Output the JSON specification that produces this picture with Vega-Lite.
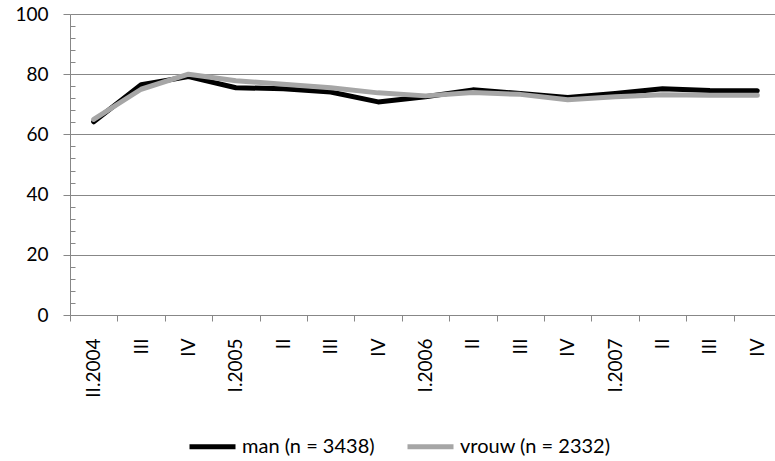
{
  "$schema": "https://vega.github.io/schema/vega-lite/v6.json",
  "width": 705,
  "height": 301,
  "autosize": {"type": "none"},
  "padding": {"left": 70, "top": 14, "right": 0, "bottom": 146},
  "background": "white",
  "config": {
    "view": {"stroke": null},
    "font": "Lato",
    "axis": {"labelFont": "Lato", "labelColor": "#000000", "domainColor": "#878787", "tickColor": "#878787", "gridColor": "#878787", "titleFont": "Lato"}
  },
  "data": {
    "values": [
      {"kwartaal": "II.2004", "geslacht": "man (n = 3438)", "pct": 64.2},
      {"kwartaal": "III.2004", "geslacht": "man (n = 3438)", "pct": 76.5},
      {"kwartaal": "IV.2004", "geslacht": "man (n = 3438)", "pct": 79.2},
      {"kwartaal": "I.2005", "geslacht": "man (n = 3438)", "pct": 75.5},
      {"kwartaal": "II.2005", "geslacht": "man (n = 3438)", "pct": 75.2},
      {"kwartaal": "III.2005", "geslacht": "man (n = 3438)", "pct": 74.1},
      {"kwartaal": "IV.2005", "geslacht": "man (n = 3438)", "pct": 70.8},
      {"kwartaal": "I.2006", "geslacht": "man (n = 3438)", "pct": 72.5},
      {"kwartaal": "II.2006", "geslacht": "man (n = 3438)", "pct": 74.8},
      {"kwartaal": "III.2006", "geslacht": "man (n = 3438)", "pct": 73.6},
      {"kwartaal": "IV.2006", "geslacht": "man (n = 3438)", "pct": 72.3},
      {"kwartaal": "I.2007", "geslacht": "man (n = 3438)", "pct": 73.6},
      {"kwartaal": "II.2007", "geslacht": "man (n = 3438)", "pct": 75.2},
      {"kwartaal": "III.2007", "geslacht": "man (n = 3438)", "pct": 74.6},
      {"kwartaal": "IV.2007", "geslacht": "man (n = 3438)", "pct": 74.5},
      {"kwartaal": "II.2004", "geslacht": "vrouw (n = 2332)", "pct": 65.0},
      {"kwartaal": "III.2004", "geslacht": "vrouw (n = 2332)", "pct": 75.0},
      {"kwartaal": "IV.2004", "geslacht": "vrouw (n = 2332)", "pct": 80.0},
      {"kwartaal": "I.2005", "geslacht": "vrouw (n = 2332)", "pct": 77.8},
      {"kwartaal": "II.2005", "geslacht": "vrouw (n = 2332)", "pct": 76.7},
      {"kwartaal": "III.2005", "geslacht": "vrouw (n = 2332)", "pct": 75.5},
      {"kwartaal": "IV.2005", "geslacht": "vrouw (n = 2332)", "pct": 73.8},
      {"kwartaal": "I.2006", "geslacht": "vrouw (n = 2332)", "pct": 72.8},
      {"kwartaal": "II.2006", "geslacht": "vrouw (n = 2332)", "pct": 73.9},
      {"kwartaal": "III.2006", "geslacht": "vrouw (n = 2332)", "pct": 73.3},
      {"kwartaal": "IV.2006", "geslacht": "vrouw (n = 2332)", "pct": 71.5},
      {"kwartaal": "I.2007", "geslacht": "vrouw (n = 2332)", "pct": 72.5},
      {"kwartaal": "II.2007", "geslacht": "vrouw (n = 2332)", "pct": 73.2},
      {"kwartaal": "III.2007", "geslacht": "vrouw (n = 2332)", "pct": 73.0},
      {"kwartaal": "IV.2007", "geslacht": "vrouw (n = 2332)", "pct": 73.0}
    ]
  },
  "encoding": {
    "x": {
      "field": "kwartaal",
      "type": "ordinal",
      "sort": null,
      "scale": {"type": "band", "paddingInner": 0, "paddingOuter": 0, "range": [0, 711]},
      "axis": {
        "title": null,
        "tickBand": "extent",
        "labelAngle": -90,
        "labelAlign": "right",
        "labelBaseline": "middle",
        "labelFontSize": 19,
        "labelPadding": 17,
        "tickSize": 6,
        "grid": false,
        "labelExpr": "!isString(datum.value) ? '' : (datum.value == 'II.2004' || split(datum.value, '.')[0] == 'I' ? datum.value : split(datum.value, '.')[0])"
      }
    },
    "y": {
      "field": "pct",
      "type": "quantitative",
      "scale": {"domain": [0, 100], "nice": false}
    }
  },
  "layer": [
    {
      "mark": {"type": "line", "strokeWidth": 5, "strokeCap": "round", "strokeJoin": "round", "strokeOpacity": 0},
      "encoding": {
        "y": {
          "field": "pct",
          "type": "quantitative",
          "axis": {
            "orient": "left",
            "title": null,
            "values": [4, 8, 12, 16, 24, 28, 32, 36, 44, 48, 52, 56, 64, 68, 72, 76, 84, 88, 92, 96],
            "labels": false,
            "domain": false,
            "grid": false,
            "tickSize": 5,
            "offset": -5
          }
        },
        "detail": {"field": "geslacht", "type": "nominal"}
      }
    },
    {
      "mark": {"type": "line", "strokeWidth": 5, "strokeCap": "round", "strokeJoin": "round"},
      "encoding": {
        "y": {
          "field": "pct",
          "type": "quantitative",
          "axis": {
            "orient": "left",
            "title": null,
            "values": [0, 20, 40, 60, 80, 100],
            "grid": true,
            "labelFontSize": 19,
            "labelPadding": 15,
            "tickSize": 7
          }
        },
        "color": {
          "field": "geslacht",
          "type": "nominal",
          "scale": {"range": ["#000000", "#a6a6a6"]},
          "legend": {
            "title": null,
            "orient": "none",
            "direction": "horizontal",
            "legendX": 117,
            "legendY": 407,
            "symbolType": "stroke",
            "symbolSize": 2116,
            "symbolStrokeWidth": 5,
            "labelFontSize": 20,
            "labelFont": "Lato",
            "labelOffset": 4,
            "columnPadding": 22
          }
        }
      }
    }
  ],
  "resolve": {"axis": {"y": "independent"}}
}
